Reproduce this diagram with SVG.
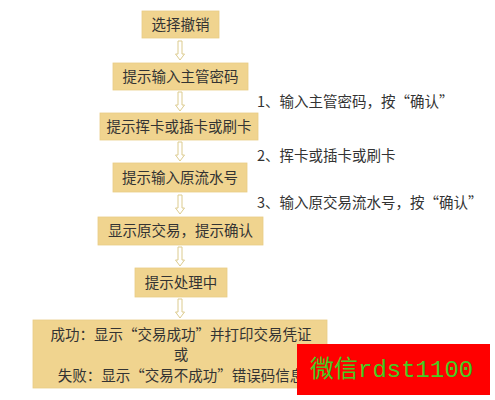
<svg xmlns="http://www.w3.org/2000/svg" width="495" height="400" viewBox="0 0 495 400">
<defs>
<style>
.box{fill:#F0D48F;stroke:#E8CC85;stroke-width:0.8}
.t{font-family:"Noto Sans CJK SC","Noto Sans",sans-serif;font-size:14.5px;fill:#333333;text-anchor:middle}
.lbl{font-family:"Noto Sans CJK SC","Noto Sans",sans-serif;font-size:14.5px;fill:#333333}
.arr{fill:#FFFFFF;stroke:#DCCB8E;stroke-width:1}
</style>
<path id="ar" d="M-2,0 L2,0 L2,13 L4.5,13 L0,19 L-4.5,13 L-2,13 Z"/>
</defs>
<rect width="495" height="400" fill="#FFFFFF"/>
<g id="n1"><rect class="box" x="142" y="11" width="77" height="27"/><text class="t" x="180.5" y="29.5">选择撤销</text></g>
<g id="n2"><rect class="box" x="113" y="63" width="135" height="27"/><text class="t" x="180.5" y="81.5">提示输入主管密码</text></g>
<g id="n3"><rect class="box" x="100" y="113" width="158" height="27"/><text class="t" x="179" y="131.5">提示挥卡或插卡或刷卡</text></g>
<g id="n4"><rect class="box" x="113" y="163" width="134" height="29"/><text class="t" x="180" y="182.5">提示输入原流水号</text></g>
<g id="n5"><rect class="box" x="98" y="217" width="165" height="28"/><text class="t" x="180.5" y="236">显示原交易，提示确认</text></g>
<g id="n6"><rect class="box" x="135" y="268" width="92" height="29"/><text class="t" x="181" y="287.5">提示处理中</text></g>
<g id="n7"><rect class="box" x="33" y="320" width="294" height="68"/>
<text class="t" x="181" y="340">成功：显示“交易成功”并打印交易凭证</text>
<text class="t" x="181" y="360">或</text>
<text class="t" x="181" y="381">失败：显示“交易不成功”错误码信息</text></g>
<g id="connectors">
<use href="#ar" class="arr" x="180" y="41"/>
<use href="#ar" class="arr" x="180" y="92"/>
<use href="#ar" class="arr" x="180" y="142"/>
<use href="#ar" class="arr" x="180" y="195"/>
<use href="#ar" class="arr" x="180" y="247"/>
<use href="#ar" class="arr" x="180" y="299"/>
</g>
<g id="labels">
<text class="lbl" x="257" y="107">1、输入主管密码，按“确认”</text>
<text class="lbl" x="257" y="161">2、挥卡或插卡或刷卡</text>
<text class="lbl" x="257" y="208">3、输入原交易流水号，按“确认”</text>
</g>
<g id="watermark">
<rect x="297" y="344" width="193" height="51" fill="#FF0000"/>
<text x="310" y="377" font-family="'Liberation Mono','Noto Sans CJK SC',monospace" font-size="24" fill="#44CC22">微信rdst1100</text>
</g>
</svg>
